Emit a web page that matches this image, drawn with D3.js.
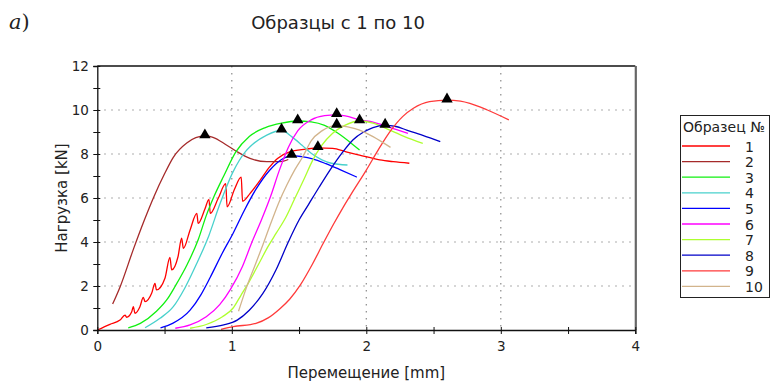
<!DOCTYPE html>
<html>
<head>
<meta charset="utf-8">
<script src="https://cdn.jsdelivr.net/npm/d3@7"></script>
<style>
  html, body { margin: 0; padding: 0; background: #fff; }
  svg { display: block; font-family: "DejaVu Sans", Verdana, sans-serif; }
</style>
</head>
<body>
<svg id="chart" width="771" height="385"></svg>
<script>
// Load–displacement curves, specimens 1..10 (displacement in mm, load in kN)
const seriesNames = ["1", "2", "3", "4", "5", "6", "7", "8", "9", "10"];
const seriesColors = ["#ff0000", "#a52a2a", "#10f010", "#48d1cc", "#0000ff",
                      "#ff00ff", "#adff2f", "#0000c8", "#ff3a3a", "#d2b48c"];

const s1 = [[0,0],[0.094,0.26],[0.169,0.45],[0.206,0.68],[0.218,0.58],[0.256,0.83],[0.268,1.06],[0.28,0.76],
  [0.317,1.06],[0.342,1.48],[0.355,1.29],[0.404,1.67],[0.429,2.12],[0.44,1.82],[0.503,2.35],[0.54,3.3],
  [0.553,2.73],[0.6,3.33],[0.627,4.17],[0.64,3.71],[0.69,4.55],[0.74,5.3],[0.75,4.85],[0.8,5.5],[0.83,5.94],
  [0.84,5.3],[0.9,6.0],[0.955,6.65],[0.965,5.6],[1.02,6.4],[1.07,6.95],[1.08,5.85],[1.135,6.2],[1.21,6.8],
  [1.28,7.4],[1.34,7.8],[1.43,8.1],[1.55,8.22],[1.64,8.28],[1.75,8.26],[1.85,8.1],[1.95,7.95],[2.1,7.73],
  [2.2,7.65],[2.32,7.58]];
const s2 = [[0.114,1.18],[0.17,1.97],[0.27,3.7],[0.35,5.0],[0.42,6.05],[0.5,7.1],[0.565,7.85],[0.665,8.5],
  [0.8,8.82],[0.86,8.76],[0.96,8.41],[1.04,8.1],[1.135,7.8],[1.26,7.65],[1.36,7.65],[1.42,7.75]];
const s3 = [[0.23,0.1],[0.32,0.3],[0.44,0.85],[0.52,1.4],[0.58,2.0],[0.67,3.0],[0.75,4.1],[0.81,5.2],
  [0.87,6.1],[0.94,7.0],[1.03,8.1],[1.13,8.8],[1.25,9.2],[1.37,9.4],[1.49,9.5],[1.59,9.46],[1.69,9.3],
  [1.79,8.94],[1.89,8.48],[1.95,8.18]];
const s4 = [[0.355,0.1],[0.466,0.53],[0.565,1.06],[0.65,1.9],[0.74,3.03],[0.83,4.3],[0.91,5.7],[1.01,7.2],
  [1.1,8.1],[1.135,8.33],[1.26,8.86],[1.37,9.08],[1.445,8.79],[1.52,8.41],[1.59,8.03],[1.67,7.73],
  [1.74,7.58],[1.86,7.5]];
const s5 = [[0.47,0.1],[0.56,0.3],[0.69,0.9],[0.77,1.6],[0.84,2.4],[0.93,3.5],[1.01,4.4],[1.09,5.4],
  [1.18,6.4],[1.28,7.25],[1.37,7.75],[1.445,7.93],[1.52,7.88],[1.6,7.78],[1.7,7.56],[1.8,7.3],[1.93,6.95]];
const s6 = [[0.58,0.08],[0.69,0.23],[0.81,0.6],[0.91,1.15],[0.99,1.85],[1.08,2.9],[1.15,4.0],[1.22,5.0],
  [1.29,6.1],[1.35,7.2],[1.42,8.3],[1.49,9.05],[1.59,9.55],[1.69,9.74],[1.78,9.78],[1.87,9.7],[1.95,9.55],
  [2.05,9.45],[2.13,9.3],[2.22,9.12],[2.31,8.94]];
const s7 = [[0.69,0.08],[0.81,0.25],[0.93,0.6],[1.01,1.0],[1.07,1.6],[1.12,2.1],[1.2,3.0],[1.27,3.8],
  [1.33,4.4],[1.4,5.1],[1.47,6.0],[1.54,6.9],[1.6,7.7],[1.67,8.4],[1.75,8.94],[1.84,9.3],[1.95,9.5],
  [2.05,9.4],[2.15,9.15],[2.28,8.8],[2.42,8.48]];
const s8 = [[0.81,0.1],[0.94,0.23],[1.04,0.45],[1.13,0.9],[1.23,1.65],[1.33,2.75],[1.42,4.0],[1.5,5.0],
  [1.57,5.7],[1.65,6.5],[1.73,7.27],[1.82,8.05],[1.9,8.64],[1.98,9.0],[2.05,9.2],[2.14,9.3],[2.22,9.25],
  [2.3,9.09],[2.42,8.85],[2.55,8.56]];
const s9 = [[0.92,0.03],[1.01,0.15],[1.18,0.3],[1.27,0.55],[1.36,0.98],[1.43,1.4],[1.51,2.05],[1.6,3.0],
  [1.68,3.94],[1.76,4.85],[1.83,5.6],[1.9,6.3],[2.0,7.27],[2.09,8.2],[2.18,9.05],[2.27,9.7],[2.35,10.08],
  [2.47,10.38],[2.6,10.45],[2.7,10.4],[2.77,10.3],[2.9,10.0],[3.06,9.55]];
const s10 = [[1.05,0.85],[1.11,1.95],[1.17,2.9],[1.23,3.85],[1.29,4.85],[1.35,5.8],[1.41,6.6],[1.47,7.3],
  [1.53,7.9],[1.59,8.6],[1.67,9.05],[1.78,9.3],[1.87,9.22],[1.95,9.09],[2.05,8.79],[2.18,8.3]];

const seriesData = [s1, s2, s3, s4, s5, s6, s7, s8, s9, s10];

const xMajor = [0, 1, 2, 3, 4];
const yMajor = [0, 2, 4, 6, 8, 10, 12];

const svg = d3.select("#chart");
const x = d3.scaleLinear().domain([0, 4]).range([97.3, 635.3]);
const y = d3.scaleLinear().domain([0, 12]).range([330, 66]);

// dotted grid at the major ticks
const grid = svg.append("g").attr("stroke", "#8a8a8a").attr("stroke-width", 1.2)
  .attr("stroke-dasharray", "1.4,5.6");
grid.selectAll("line.gx").data(xMajor.filter(d => d > 0 && d < 4)).join("line")
  .attr("x1", d => x(d)).attr("x2", d => x(d)).attr("y1", y(12)).attr("y2", y(0));
grid.selectAll("line.gy").data(yMajor.filter(d => d > 0 && d < 12)).join("line")
  .attr("x1", x(0)).attr("x2", x(4)).attr("y1", d => y(d)).attr("y2", d => y(d));

// frame: top and right edges
svg.append("line").attr("x1", x(0)).attr("x2", x(4)).attr("y1", y(12)).attr("y2", y(12))
  .attr("stroke", "#111").attr("stroke-width", 1.3);
svg.append("line").attr("x1", x(4) + 0.5).attr("x2", x(4) + 0.5).attr("y1", y(12)).attr("y2", y(0))
  .attr("stroke", "#666").attr("stroke-width", 2.2);

// curves
const line = d3.line().x(d => x(d[0])).y(d => y(d[1])).curve(d3.curveMonotoneX);
svg.append("g").attr("fill", "none").attr("stroke-width", 1.3)
  .selectAll("path").data(seriesData).join("path")
  .attr("stroke", (d, i) => seriesColors[i]).attr("d", line);

// peak markers
const peaks = seriesData.map(s => d3.greatest(s, d => d[1]));
svg.append("g").selectAll("path").data(peaks).join("path")
  .attr("transform", d => `translate(${x(d[0])},${y(d[1]) - 1})`)
  .attr("d", d3.symbol(d3.symbolTriangle, 56)).attr("fill", "#000");

// axes
const xAxis = d3.axisBottom(x).tickValues(d3.range(0, 4.01, 0.5)).tickSize(4)
  .tickFormat(d => Number.isInteger(d) ? d : "");
const gx = svg.append("g").attr("transform", `translate(0,${y(0)})`).call(xAxis);
gx.selectAll(".tick line").attr("y1", -3);
const yAxis = d3.axisLeft(y).tickValues(d3.range(0, 12.01, 1)).tickSize(4)
  .tickFormat(d => d % 2 === 0 ? d : "");
const gy = svg.append("g").attr("transform", `translate(${x(0)},0)`).call(yAxis);
gy.selectAll(".tick line").attr("x1", 3);
[gx, gy].forEach(g => {
  g.select(".domain").attr("stroke", "#111").attr("stroke-width", 1.3);
  g.selectAll(".tick line").attr("stroke", "#111");
  g.selectAll("text").attr("font-size", 13.5).attr("fill", "#222")
    .attr("font-family", "'DejaVu Sans', Verdana, sans-serif");
});
gx.selectAll("text").attr("dy", "1.05em");
gy.selectAll("text").attr("dx", "-0.1em");

// axis titles
svg.append("text").attr("x", x(2)).attr("y", 378).attr("text-anchor", "middle")
  .attr("font-size", 15).attr("fill", "#222").text("Перемещение [mm]");
svg.append("text").attr("transform", `translate(67,${y(6)}) rotate(-90)`)
  .attr("text-anchor", "middle").attr("font-size", 15).attr("fill", "#222").text("Нагрузка [kN]");

// title and panel letter
svg.append("text").attr("x", 338).attr("y", 29).attr("text-anchor", "middle")
  .attr("font-size", 18).attr("fill", "#222").text("Образцы с 1 по 10");
const panel = svg.append("text").attr("x", 9).attr("y", 29).attr("font-size", 21).attr("fill", "#222")
  .attr("font-family", "'DejaVu Serif', serif");
panel.append("tspan").attr("font-style", "italic").text("a");
panel.append("tspan").text(")");

// legend
const lg = svg.append("g").attr("transform", "translate(680,115)");
lg.append("rect").attr("x", 0.5).attr("y", 0.5).attr("width", 89).attr("height", 182)
  .attr("fill", "#fff").attr("stroke", "#222").attr("stroke-width", 1);
lg.append("text").attr("x", 3).attr("y", 17).attr("font-size", 14).attr("fill", "#222").text("Образец №");
const items = lg.selectAll("g.item").data(seriesNames).join("g")
  .attr("transform", (d, i) => `translate(0,${31 + i * 15.6})`);
items.append("line").attr("x1", 2).attr("x2", 50).attr("stroke-width", 1.3)
  .attr("stroke", (d, i) => seriesColors[i]);
items.append("text").attr("x", 65).attr("y", 5.5).attr("font-size", 14).attr("fill", "#222")
  .text(d => d);
</script>
</body>
</html>
